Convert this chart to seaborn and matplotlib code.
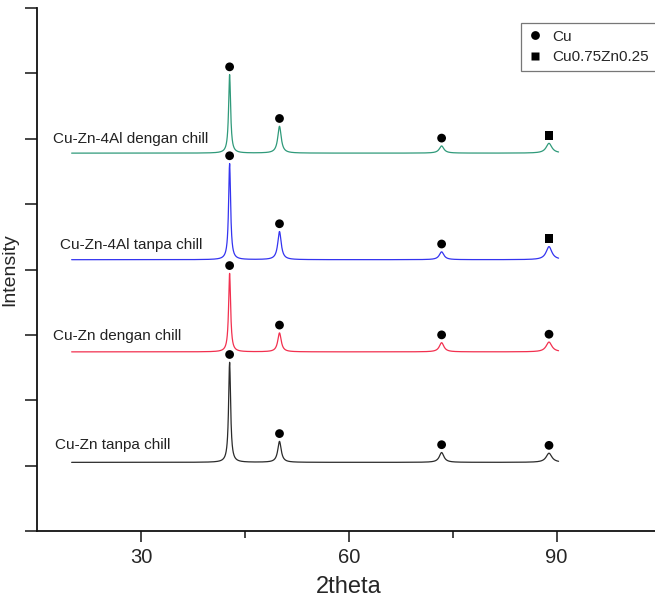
import numpy as np
import pandas as pd
import matplotlib
matplotlib.use("Agg")
import matplotlib.pyplot as plt
import seaborn as sns

# peak positions (2theta)
peak_pos = [42.8, 50.0, 73.4, 88.9]
peak_fwhm = [0.35, 0.6, 0.8, 1.0]

samples = ["Cu-Zn tanpa chill", "Cu-Zn dengan chill",
           "Cu-Zn-4Al tanpa chill", "Cu-Zn-4Al dengan chill"]
baselines = [1.05, 2.74, 4.15, 5.78]
heights_cuzn_tanpa = [1.53, 0.32, 0.15, 0.14]
heights_cuzn_dengan = [1.20, 0.29, 0.14, 0.15]
heights_al_tanpa = [1.47, 0.43, 0.12, 0.20]
heights_al_dengan = [1.20, 0.41, 0.11, 0.15]
heights = [heights_cuzn_tanpa, heights_cuzn_dengan, heights_al_tanpa, heights_al_dengan]
# phase of each peak: Cu or Cu0.75Zn0.25
phases = [["Cu", "Cu", "Cu", "Cu"],
          ["Cu", "Cu", "Cu", "Cu"],
          ["Cu", "Cu", "Cu", "Cu0.75Zn0.25"],
          ["Cu", "Cu", "Cu", "Cu0.75Zn0.25"]]

colors = ["#2b2b2b", "#f2304f", "#3434f0", "#2f9a7a"]
label_pos = [(17.6, 1.31), (17.3, 2.98), (18.3, 4.37), (17.3, 5.99)]

# build the traces from the peaks
two_theta = np.arange(20, 90.3, 0.02)
rows = []
marks = []
for s, b, h, ph in zip(samples, baselines, heights, phases):
    y = np.full_like(two_theta, b)
    for p, w, a in zip(peak_pos, peak_fwhm, h):
        g = w / 2
        y = y + a * g**2 / ((two_theta - p)**2 + g**2)
    rows.append(pd.DataFrame({"2theta": two_theta, "I": y, "sample": s}))
    for p, a, f in zip(peak_pos, h, ph):
        marks.append({"2theta": p, "I": b + a + 0.12, "phase": f})
df = pd.concat(rows, ignore_index=True)
mk = pd.DataFrame(marks)

sns.set_style("ticks")
plt.rcParams['font.family'] = ['Liberation Sans', 'DejaVu Sans']

fig = plt.figure(figsize=(6.55, 6.02), dpi=100)
ax = fig.add_axes([37/655, 1 - 531/602, 618/655, 523/602])

sns.lineplot(data=df, x="2theta", y="I", hue="sample", palette=colors,
             hue_order=samples, lw=0.9, ax=ax, legend=False, estimator=None, sort=False)
sns.scatterplot(data=mk, x="2theta", y="I", style="phase", markers={"Cu": "o", "Cu0.75Zn0.25": "s"},
                style_order=["Cu", "Cu0.75Zn0.25"], color="black", s=40, edgecolor="none",
                ax=ax, zorder=5)

for s, (lx, ly) in zip(samples, label_pos):
    ax.text(lx, ly, s, fontsize=11, va="center", ha="left", color="#222222")

ax.set_xlim(15, 104.2)
ax.set_ylim(0, 8)
ax.set_xticks([30, 60, 90])
ax.set_xticks([45, 75], minor=True)
ax.set_yticks(range(0, 9))
ax.set_yticklabels([])
ax.tick_params(axis="x", which="major", length=8, width=1.2, labelsize=14.5, pad=4)
ax.tick_params(axis="x", which="minor", length=5, width=1.2)
ax.tick_params(axis="y", length=9, width=1.2)
sns.despine(ax=ax)
for sp in ["left", "bottom"]:
    ax.spines[sp].set_linewidth(1.3)
    ax.spines[sp].set_color("#111111")

ax.set_xlabel("2theta", fontsize=17)
ax.xaxis.set_label_coords(0.505, -0.086)
ax.set_ylabel("Intensity", fontsize=14)
ax.yaxis.set_label_coords(-0.03, 0.5)

leg = ax.legend(loc="upper left", bbox_to_anchor=(0.783, 0.972), fontsize=11,
                frameon=True, fancybox=False, edgecolor="#555555", handletextpad=0.6,
                borderpad=0.45, labelspacing=0.45, handlelength=1.0, borderaxespad=0)
leg.get_frame().set_linewidth(0.9)

fig.savefig("out.png", dpi=100)
